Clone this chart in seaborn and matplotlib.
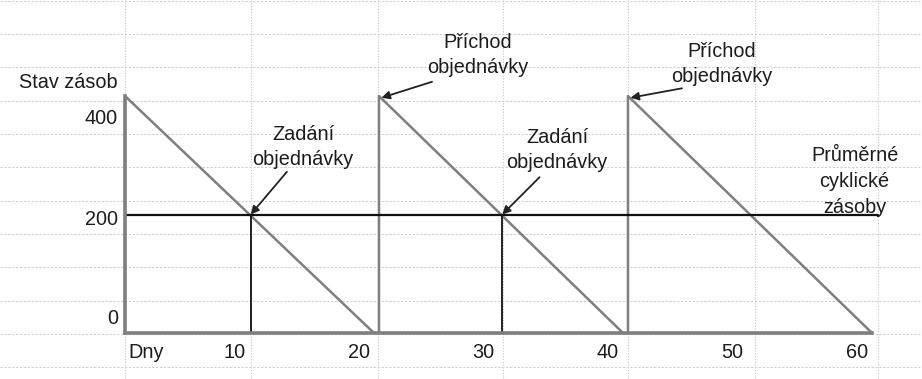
import matplotlib
matplotlib.use("Agg")
import matplotlib.pyplot as plt
from matplotlib.lines import Line2D
import pandas as pd
import seaborn as sns

# data
saw_days = [0, 20, 20.4, 20.4, 40, 40.4, 40.4, 60]
saw_stock = [400, 0, 0, 400, 0, 0, 400, 0]
avg_days = [0, 60.5]
avg_level = 200
order_days = [10.1, 30.3]
arrival_days = [20.4, 40.4]
peak_stock = 400
xtick_vals = [10, 20, 30, 40, 50, 60]
ytick_vals = [0, 200, 400]

# layout of the scanned sheet (pixels)
W, H = 922, 379
X0_PX, Y0_PX = 125, 333
PX_PER_DAY = 12.45
PX_PER_UNIT = 0.5925
COL_PX = [125, 251, 378, 503, 628, 755, 878]
ROW_H = 33.35

GREY = "#7f7f7f"
INK = "#1c1c1c"
FS = 14.3
LSP = 1.45

sns.set_style("white")
plt.rcParams["font.family"] = ["Liberation Sans", "DejaVu Sans"]

fig = plt.figure(figsize=(W / 100, H / 100), dpi=100, facecolor="white")
ax = fig.add_axes([0, 0, 1, 1])
ax.patch.set_alpha(0)

# spreadsheet grid in the background
for x in COL_PX:
    fig.add_artist(Line2D([x / W, x / W], [0, 1], transform=fig.transFigure,
                          color="#c4c4c4", lw=0.8, ls=(0, (1, 1.5)), zorder=0))
r = 0.5
while r < H:
    fig.add_artist(Line2D([0, 1], [1 - r / H, 1 - r / H], transform=fig.transFigure,
                          color="#cfcfcf", lw=0.8, ls=(0, (2, 1.5)), zorder=0))
    r += ROW_H

ax.set_xlim(-X0_PX / PX_PER_DAY, (W - X0_PX) / PX_PER_DAY)
ax.set_ylim(-(H - Y0_PX) / PX_PER_UNIT, Y0_PX / PX_PER_UNIT)

df = pd.DataFrame({"day": saw_days, "stock": saw_stock})
sns.lineplot(data=df, x="day", y="stock", estimator=None, sort=False,
             color=GREY, lw=1.8, ax=ax, zorder=3)
ax.plot(avg_days, [avg_level, avg_level], color="#111111", lw=1.6, zorder=4)
ax.vlines(order_days, 0, avg_level, color="#111111", lw=1.3, zorder=4)

# axes as an L shape
for side in ["top", "right"]:
    ax.spines[side].set_visible(False)
ax.spines["left"].set_position(("data", 0))
ax.spines["bottom"].set_position(("data", 0))
ax.spines["left"].set_bounds(0, peak_stock)
ax.spines["bottom"].set_bounds(0, saw_days[-1])
for side in ["left", "bottom"]:
    ax.spines[side].set_color(GREY)
    ax.spines[side].set_linewidth(2.6)
    ax.spines[side].set_zorder(5)
ax.set_xticks([])
ax.set_yticks([])
ax.set_xlabel("")
ax.set_ylabel("")

# tick labels sit in the sheet cells
for v in xtick_vals:
    ax.annotate(str(v), xy=(v, 0), xytext=(-4, -19), textcoords="offset pixels",
                ha="right", va="center", fontsize=FS, color=INK)
y_off = {0: 15, 200: -5, 400: -22}
for v in ytick_vals:
    ax.annotate(str(v), xy=(0, v), xytext=(-7, y_off[v]), textcoords="offset pixels",
                ha="right", va="center", fontsize=FS, color=INK)
ax.annotate("Stav zásob", xy=(0, peak_stock), xytext=(-7, 13), textcoords="offset pixels",
            ha="right", va="center", fontsize=FS, color=INK)
ax.annotate("Dny", xy=(0, 0), xytext=(3, -19), textcoords="offset pixels",
            ha="left", va="center", fontsize=FS, color=INK)

arrow = dict(arrowstyle="-|>", color="#222222", lw=1.3, mutation_scale=12,
             shrinkA=0, shrinkB=0)

# order placed
zad_text = [(14.3, 314), (34.7, 309)]
zad_tail = [(13.0, 272), (33.3, 263)]
for d, (tx, ty), tail in zip(order_days, zad_text, zad_tail):
    ax.text(tx, ty, "Zadání\nobjednávky", ha="center", va="center",
            fontsize=FS, color=INK, linespacing=LSP)
    ax.annotate("", xy=(d, avg_level), xytext=tail, arrowprops=arrow, zorder=6)

# order arrives
pri_text = [(28.35, 469), (47.95, 454)]
pri_tail = [(24.66, 424), (44.74, 413)]
for d, (tx, ty), tail in zip(arrival_days, pri_text, pri_tail):
    ax.text(tx, ty, "Příchod\nobjednávky", ha="center", va="center",
            fontsize=FS, color=INK, linespacing=LSP)
    ax.annotate("", xy=(d + 0.2, peak_stock - 3), xytext=tail, arrowprops=arrow, zorder=6)

ax.text(58.6, 256, "Průměrné\ncyklické\nzásoby", ha="center", va="center",
        fontsize=FS, color=INK, linespacing=LSP)

fig.savefig("out.png", dpi=100, facecolor="white")
